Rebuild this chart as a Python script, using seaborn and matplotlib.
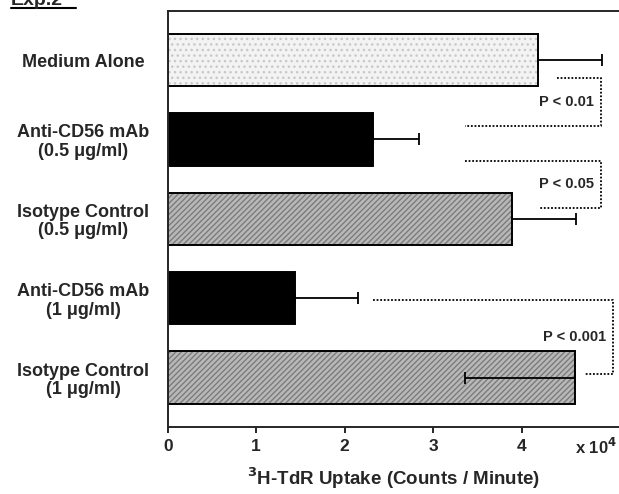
import matplotlib
matplotlib.use("Agg")
import matplotlib.pyplot as plt
from matplotlib.patches import Rectangle
from matplotlib.lines import Line2D
import seaborn as sns
import numpy as np

# values in units of 10^4 counts / minute
labels = [
    "Medium Alone",
    "Anti-CD56 mAb\n(0.5 \u03bcg/ml)",
    "Isotype Control\n(0.5 \u03bcg/ml)",
    "Anti-CD56 mAb\n(1 \u03bcg/ml)",
    "Isotype Control\n(1 \u03bcg/ml)",
]
uptake = [4.19, 2.32, 3.89, 1.44, 4.60]
sd = [0.72, 0.52, 0.72, 0.71, 1.24]
err_side = ["+", "+", "+", "+", "-"]
xticks = [0, 1, 2, 3, 4]

# p-value brackets: (top y, bottom y, top start x, bottom start x, vertical x, text)
brackets = [
    (0.23, 0.83, 4.40, 3.36, 4.90, "P < 0.01"),
    (1.27, 1.86, 3.36, 4.20, 4.90, "P < 0.05"),
    (3.02, 3.95, 2.32, 4.71, 5.03, "P < 0.001"),
]

sns.set_style("ticks")
plt.rcParams["font.family"] = ["Liberation Sans", "DejaVu Sans"]
plt.rcParams["font.weight"] = "bold"
plt.rcParams["mathtext.default"] = "bf"

fig = plt.figure(figsize=(6.19, 4.94), dpi=100)
ax = fig.add_axes([0.271, 0.136, 0.729, 0.842])

colors = ["#f3f3f3", "black", "#b8b8b8", "black", "#b8b8b8"]
sns.barplot(
    x=uptake,
    y=labels,
    hue=labels,
    palette=colors,
    orient="h",
    width=0.66,
    edgecolor="black",
    linewidth=1.4,
    legend=False,
    ax=ax,
)

# textures
for patch, lab in zip(ax.patches, labels):
    if lab.startswith("Medium"):
        hatch, hc = "...", "#c8c8c8"
    elif lab.startswith("Isotype"):
        hatch, hc = "//////", "#7c7c7c"
    else:
        continue
    tex = Rectangle(patch.get_xy(), patch.get_width(), patch.get_height(),
                    facecolor="none", edgecolor=hc, hatch=hatch, linewidth=0,
                    zorder=patch.get_zorder() + 0.1)
    ax.add_patch(tex)
    patch.set_zorder(patch.get_zorder() + 0.2)
    patch.set_facecolor("none")
    under = Rectangle(patch.get_xy(), patch.get_width(), patch.get_height(),
                      facecolor=colors[labels.index(lab)], linewidth=0,
                      zorder=patch.get_zorder() - 0.3)
    ax.add_patch(under)

lower = [e if s == "-" else 0 for e, s in zip(sd, err_side)]
upper = [e if s == "+" else 0 for e, s in zip(sd, err_side)]
ax.errorbar(uptake, np.arange(len(labels)), xerr=[lower, upper], fmt="none",
            ecolor="black", elinewidth=1.3, capsize=4, capthick=1.3, zorder=5)

for ytop, ybot, xtop, xbot, xv, txt in brackets:
    ax.plot([xtop, xv, xv, xbot], [ytop, ytop, ybot, ybot], color="black",
            linestyle=(0, (1, 1)), linewidth=1.3, clip_on=False)
    ax.text(xv - 0.08, (ytop + ybot) / 2, txt, ha="right", va="center",
            fontsize=10.5, fontweight="bold")

ax.set_xlim(0, 5.1)
ax.set_ylim(4.62, -0.62)
ax.set_xticks(xticks)
ax.set_xticklabels([str(t) for t in xticks], fontsize=12.5, fontweight="bold")
ax.set_yticks(range(len(labels)))
ax.set_yticklabels(labels, fontsize=13, fontweight="bold", ha="center",
                   multialignment="center", linespacing=1.12)
ax.tick_params(axis="y", length=0, pad=61)
ax.tick_params(axis="x", direction="out", length=4, width=1.4, pad=5)
for side in ["left", "bottom", "top"]:
    ax.spines[side].set_linewidth(1.4)
ax.spines["right"].set_visible(False)

ax.set_xlabel("$^{3}$H-TdR Uptake (Counts / Minute)", fontsize=13.5,
              fontweight="bold", labelpad=8)
ax.set_ylabel("")
ax.text(0.995, -0.025, "x 10$^{4}$", transform=ax.transAxes, ha="right",
        va="top", fontsize=12, fontweight="bold")

# cropped panel heading
fig.text(0.017, 0.99, "Exp.2", ha="left", va="baseline", fontsize=14,
         fontweight="bold")
fig.add_artist(Line2D([0.017, 0.122], [0.984, 0.984], color="black",
                      linewidth=1.5, transform=fig.transFigure))

fig.savefig("out.png", dpi=100)
